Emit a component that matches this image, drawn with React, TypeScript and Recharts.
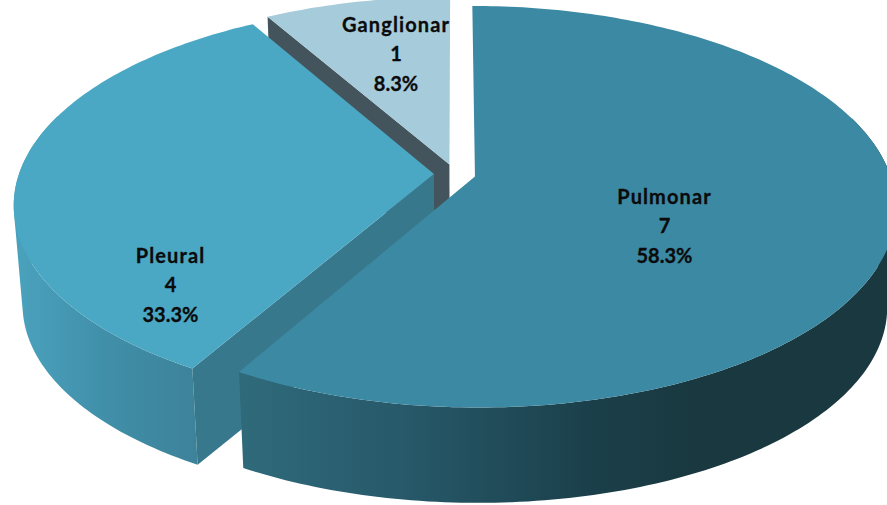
import { PieChart, Pie } from 'recharts';

const categories = ['Ganglionar', 'Pleural', 'Pulmonar'];
const counts = [1, 4, 7];

const topColors = ['#a6cbdb', '#4aa8c4', '#3c89a3'];
const faceColors = ['#44545c', '#38788c', '#38788c'];
const wallStops = [
  [[0, '#4aa0ba'], [1, '#4aa0ba']],
  [[0, '#4aa1bc'], [0.5, '#408ea8'], [1, '#3d8299']],
  [[0, '#2f6a7b'], [0.35, '#27596a'], [0.75, '#1b404b'], [1, '#19383f']],
];
const wallRanges = [[270, 450], [20, 200], [243, 700]];

// where the three-line labels sit in the picture
const labelCenters = [[396, 54], [170.5, 285], [664.5, 226]];

const data = categories.map((name, i) => ({ name, value: counts[i] }));

const WIDTH = 887;
const HEIGHT = 505;
const RADIUS = 415;
const CX = 454.8;
const CY = 174;

// tilted disc: flatten and add some perspective
const SQUASH = 195.5 / 415;
const TILT = 0.15;
const EXPLODE = 0.0502;
const DEPTH = 100;
const DEPTH_SCALE = 0.98;

const rad = (a: number) => (a * Math.PI) / 180;

function project(px: number, py: number) {
  const w = 1 + TILT * py;
  return [(px * RADIUS) / w, (py * RADIUS * SQUASH) / w];
}

function PerspectiveSlice(props: any) {
  const { startAngle, endAngle, midAngle, name } = props;
  const i = categories.indexOf(name);
  const ox = EXPLODE * Math.cos(rad(midAngle));
  const oy = EXPLODE * Math.sin(rad(midAngle));

  const top = (a: number, r = 1) => {
    const [x, y] = project(ox + r * Math.cos(rad(a)), oy + r * Math.sin(rad(a)));
    return [CX + x, CY - y];
  };
  const bottom = (a: number, r = 1) => {
    const [x, y] = project(ox + r * Math.cos(rad(a)), oy + r * Math.sin(rad(a)));
    return [CX + x * DEPTH_SCALE, CY - y * DEPTH_SCALE + DEPTH];
  };
  const poly = (pts: number[][]) =>
    'M' + pts.map((p) => p[0].toFixed(2) + ' ' + p[1].toFixed(2)).join('L') + 'Z';

  const arc: number[] = [];
  const steps = Math.ceil(endAngle - startAngle);
  for (let s = 0; s <= steps; s++) arc.push(startAngle + ((endAngle - startAngle) * s) / steps);

  // the wall is one path of quads, all wound the same way so they fill as a union
  // the back of the rim can't be seen so it is skipped
  let wall = '';
  for (let s = 0; s < steps; s++) {
    if (Math.sin(rad(arc[s])) > 0.3 && Math.sin(rad(arc[s + 1])) > 0.3) continue;
    const q = [top(arc[s]), top(arc[s + 1]), bottom(arc[s + 1]), bottom(arc[s])];
    let area = 0;
    q.forEach((p, k) => {
      const n = q[(k + 1) % 4];
      area += p[0] * n[1] - n[0] * p[1];
    });
    wall += poly(area < 0 ? [...q].reverse() : q);
  }

  const face = (a: number) => poly([top(a, 0), top(a), bottom(a), bottom(a, 0)]);
  const gradId = 'wall-' + i;

  return (
    <g>
      <defs>
        <linearGradient id={gradId} gradientUnits="userSpaceOnUse" x1={wallRanges[i][0]} x2={wallRanges[i][1]} y1={0} y2={0}>
          {wallStops[i].map((st: any, k: number) => (
            <stop key={k} offset={st[0]} stopColor={st[1]} />
          ))}
        </linearGradient>
      </defs>
      {wall && <path d={wall} fill={`url(#${gradId})`} fillRule="nonzero" />}
      {Math.cos(rad(endAngle)) < -0.001 && <path d={face(endAngle)} fill={faceColors[i]} />}
      {Math.cos(rad(startAngle)) > 0.001 && <path d={face(startAngle)} fill={faceColors[i]} />}
      <path d={poly([top(0, 0), ...arc.map((a) => top(a))])} fill={topColors[i]} />
    </g>
  );
}

function renderLabel(props: any) {
  const { name, value, percent } = props;
  const i = categories.indexOf(name);
  const [x, y] = labelCenters[i];
  const lines = [name, String(value), (percent * 100).toFixed(1) + '%'];
  return (
    <text
      key={name}
      textAnchor="middle"
      fontFamily="Lato, sans-serif"
      fontWeight={700}
      fontSize={20}
      fill="#0b0b0b"
      stroke="#0b0b0b"
      strokeWidth={0.3}
    >
      {lines.map((t, k) => (
        <tspan key={k} x={x} y={y + 7 + (k - 1) * 29.5} letterSpacing={k === 0 ? 1.1 : 0}>
          {t}
        </tspan>
      ))}
    </text>
  );
}

export default function App() {
  return (
    <div style={{ position: 'absolute', left: 0, top: 0, width: WIDTH, height: HEIGHT, overflow: 'hidden', background: '#fff' }}>
      <PieChart width={WIDTH} height={HEIGHT} margin={{ top: 0, right: 0, bottom: 0, left: 0 }}>
        <Pie
          data={data}
          dataKey="value"
          nameKey="name"
          cx={CX}
          cy={CY}
          outerRadius={RADIUS}
          startAngle={90}
          endAngle={450}
          stroke="none"
          shape={PerspectiveSlice}
          label={renderLabel}
          labelLine={false}
          isAnimationActive={false}
        />
      </PieChart>
    </div>
  );
}
